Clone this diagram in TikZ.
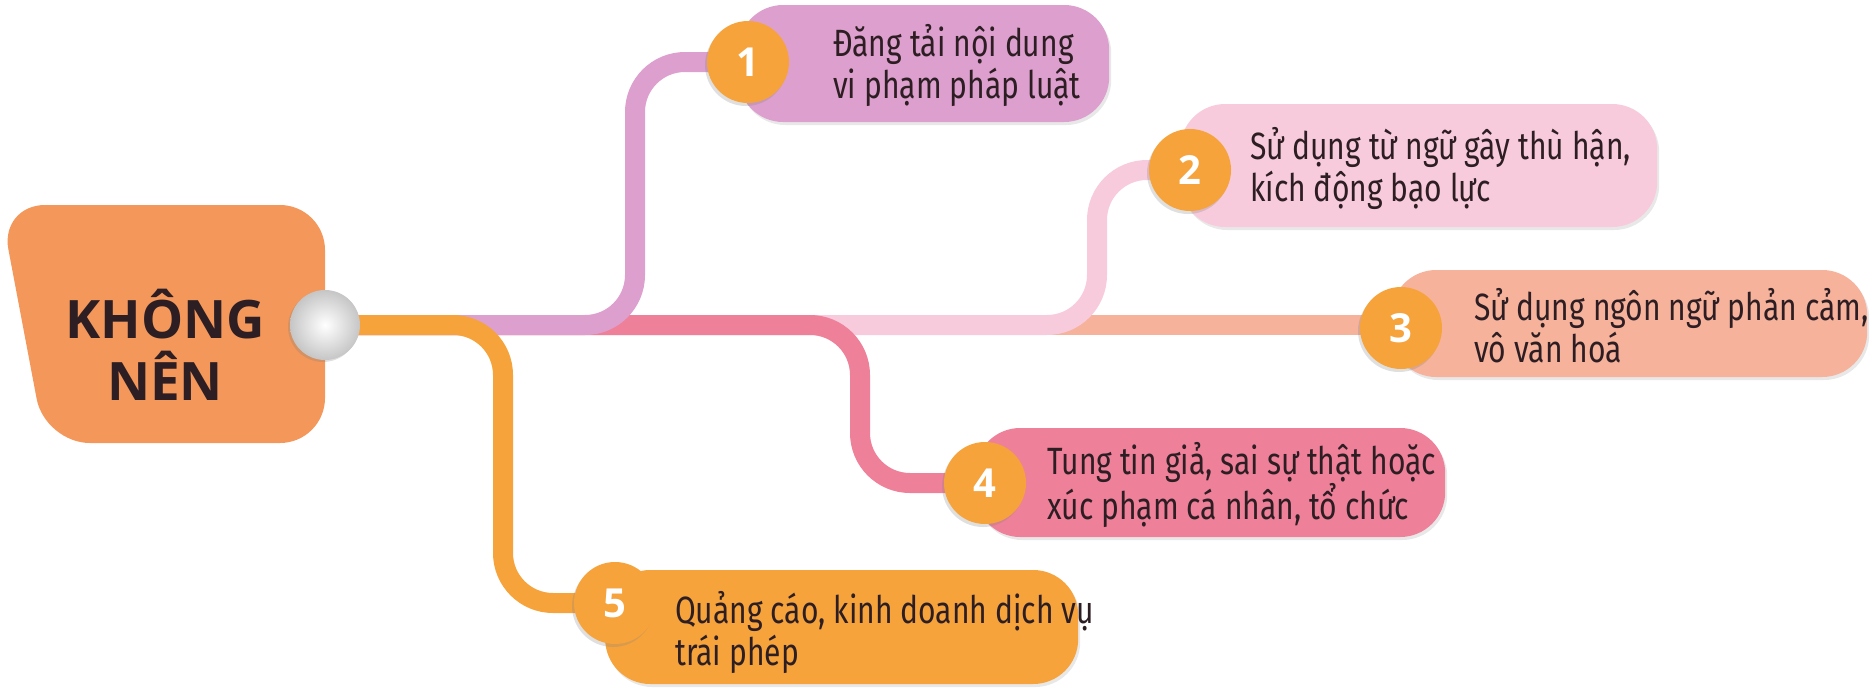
\documentclass[tikz,border=0pt]{standalone}
\usepackage{fontspec}
\setmainfont{Fira Sans}[FakeStretch=0.79]
\newfontfamily\headfont{Open Sans}
\usetikzlibrary{backgrounds,shadows}
\definecolor{rootorange}{HTML}{F4975A}
\definecolor{lilac}{HTML}{DDA0CE}
\definecolor{blush}{HTML}{F8CBDC}
\definecolor{salmon}{HTML}{F6B29B}
\definecolor{rose}{HTML}{EF8099}
\definecolor{amber}{HTML}{F6A33C}
\definecolor{ink}{HTML}{2D1E23}

\begin{document}
\begin{tikzpicture}[x=1pt,y=-1pt,
  itembox/.style={rectangle, rounded corners=45pt, anchor=west, inner sep=0pt,
    drop shadow={opacity=0.18, shadow xshift=2pt, shadow yshift=-3pt}},
  badge/.style={circle, fill=amber, minimum size=82pt, inner sep=0pt, text=white,
    font=\headfont\bfseries\fontsize{40}{40}\selectfont,
    drop shadow={opacity=0.25, shadow xshift=-2pt, shadow yshift=-3pt}},
  itemtext/.style={anchor=west, align=left, inner sep=0pt, text=ink,
    font=\fontsize{38}{42}\selectfont},
  branch/.style={line width=20pt, rounded corners=50pt}]
 \useasboundingbox (0,0) rectangle (1872,688);
 \fill[rootorange, rounded corners=45pt] (0,205) -- (325,205) -- (325,443) -- (45,443) -- cycle;
 \node[align=center, text=ink, font=\headfont\bfseries\fontsize{53}{62}\selectfont] (root) at (165,345) {KHÔNG\\NÊN};

 \node[itembox, fill=lilac, minimum width=371pt, minimum height=117pt] (b1) at (738,63.5) {};
 \node[itembox, fill=blush, minimum width=477pt, minimum height=123pt] (b2) at (1180,165.5) {};
 \node[itembox, fill=salmon, minimum width=476pt, minimum height=107pt] (b3) at (1391,323.5) {};
 \node[itembox, fill=rose, minimum width=470pt, minimum height=109pt] (b4) at (975,482.5) {};
 \node[itembox, fill=amber, minimum width=473pt, minimum height=114pt] (b5) at (605,627) {};

 \node[badge] (n1) at (748,62) {1};
 \node[badge] (n2) at (1190,170) {2};
 \node[badge] (n3) at (1401,328) {3};
 \node[badge] (n4) at (985,483) {4};
 \node[badge] (n5) at (615,603) {5};

 \node[itemtext] (t1) at (833,65) {Đăng tải nội dung\\vi phạm pháp luật};
 \node[itemtext] (t2) at (1250,168) {Sử dụng từ ngữ gây thù hận,\\kích động bạo lực};
 \node[itemtext] (t3) at (1474,326) {Sử dụng ngôn ngữ phản cảm,\\vô văn hoá};
 \node[itemtext] (t4) at (1047,485) {Tung tin giả, sai sự thật hoặc\\xúc phạm cá nhân, tổ chức};
 \node[itemtext] (t5) at (675,632) {Quảng cáo, kinh doanh dịch vụ\\trái phép};

 \node[circle, minimum size=70pt, inner color=white, outer color=gray!45,
   drop shadow={opacity=0.25, shadow xshift=-2pt, shadow yshift=-2pt}] (hub) at (325,325) {};

 \coordinate (k1) at (635,0);
 \coordinate (k2) at (1097,0);
 \coordinate (k4) at (860,0);
 \coordinate (k5) at (503,0);

 \begin{pgfonlayer}{background}
  \draw[branch, salmon] (hub.center) -- (n3.center |- hub.center);
  \draw[branch, blush] (hub.center) -| (k2 |- n2.center) -- (n2.center);
  \draw[branch, rose] (hub.center) -| (k4 |- n4.center) -- (n4.center);
  \draw[branch, lilac] (hub.center) -| (k1 |- n1.center) -- (n1.center);
  \draw[branch, amber] (hub.center) -| (k5 |- n5.center) -- (n5.center);
 \end{pgfonlayer}
\end{tikzpicture}
\end{document}
